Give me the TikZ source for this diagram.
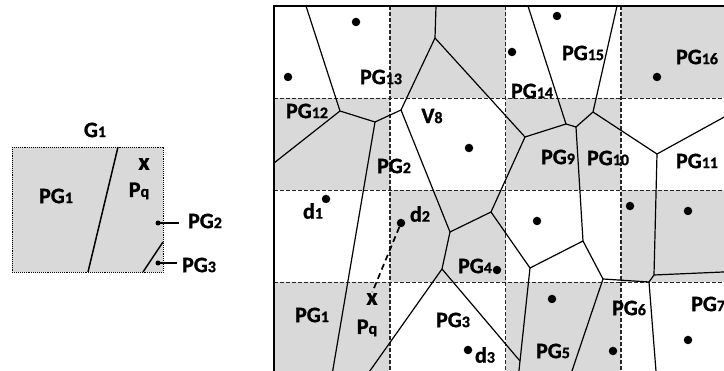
\documentclass[tikz,border=0pt]{standalone}
\usepackage{fontspec}
\setmainfont{Carlito}[BoldFeatures={FakeBold=1.2}]
\newcommand\lblfont{\fontsize{22}{24}\selectfont\bfseries}
\newcommand\ssub[1]{{\fontsize{16}{17}\selectfont #1}}
\begin{document}
\begin{tikzpicture}[x=1pt,y=-1pt,
  lbl/.style={font=\lblfont, inner sep=0pt},
  vedge/.style={line width=1.2pt, line join=round},
  gridline/.style={dash pattern=on 4pt off 2pt, line width=1.2pt, black!85},
  site/.style={circle, fill=black, inner sep=0pt, minimum size=8.5pt},
  cellfill/.style={fill=gray!30}]
\useasboundingbox (0,0) rectangle (724,371);
\begin{scope}
\clip (0,0) rectangle (724,371);

% ---------- partitioned grid (right) ----------
% checkerboard of grid cells
\fill[cellfill] (390,6) rectangle (505.5,98.5);
\fill[cellfill] (621,6) rectangle (737,98.5);
\fill[cellfill] (274,98.5) rectangle (390,190.5);
\fill[cellfill] (505.5,98.5) rectangle (621,190.5);
\fill[cellfill] (390,190.5) rectangle (505.5,282.5);
\fill[cellfill] (621,190.5) rectangle (737,282.5);
\fill[cellfill] (274,282.5) rectangle (390,375);
\fill[cellfill] (505.5,282.5) rectangle (621,375);

% grid lines
\foreach \gx in {390,505.5,621} \draw[gridline] (\gx,6) -- (\gx,375);
\foreach \gy in {98.5,190.5,282.5} \draw[gridline] (274,\gy) -- (737,\gy);

% Voronoi vertices
\coordinate (A) at (340,111);
\coordinate (B) at (375,122);
\coordinate (C) at (401,110);
\coordinate (D) at (435,38);
\coordinate (E) at (525,137);
\coordinate (F) at (450,232);
\coordinate (G) at (491,212);
\coordinate (H) at (530,268);
\coordinate (I) at (442,269);
\coordinate (J) at (520,361);
\coordinate (K) at (583,241);
\coordinate (L) at (576,127);
\coordinate (M) at (603,279);
\coordinate (N) at (649,282);
\coordinate (O) at (654,275);
\coordinate (P) at (657,154);
\coordinate (Q) at (593,112);
\coordinate (R) at (566,124);
% open ends on the frame
\coordinate (a1) at (306,6);
\coordinate (a2) at (274,163);
\coordinate (b1) at (332,375);
\coordinate (d1) at (436,6);
\coordinate (i1) at (367,375);
\coordinate (j1) at (518.5,375);
\coordinate (m1) at (570.6,375);
\coordinate (n1) at (656.3,375);
\coordinate (o1) at (737,271.4);
\coordinate (p1) at (737,110);
\coordinate (q1) at (617,6);
\coordinate (r1) at (528,6);

% Voronoi edges
\draw[vedge] (a1) -- (A) -- (B) -- (C) -- (D) -- (d1);
\draw[vedge] (A) -- (a2);
\draw[vedge] (B) -- (b1);
\draw[vedge] (C) -- (F) -- (G) -- (E) -- (D);
\draw[vedge] (E) -- (R) -- (r1);
\draw[vedge] (R) -- (L) -- (Q) -- (q1);
\draw[vedge] (Q) -- (P) -- (p1);
\draw[vedge] (P) -- (O) -- (o1);
\draw[vedge] (O) -- (N) -- (n1);
\draw[vedge] (N) -- (M) -- (m1);
\draw[vedge] (M) -- (K) -- (L);
\draw[vedge] (K) -- (H) -- (G);
\draw[vedge] (H) -- (J) -- (j1);
\draw[vedge] (F) -- (I) -- (i1);
\draw[vedge] (I) -- (J);

% frame
\draw[line width=2pt] (274,375) -- (274,6) -- (737,6);

% sites
\node[site] (s1) at (356,22) {};
\node[site] (s2) at (288,77) {};
\node[site] (s3) at (469,148) {};
\node[site] (s4) at (557,16) {};
\node[site] (s5) at (512,52) {};
\node[site] (s6) at (657,77) {};
\node[site] (sd1) at (326,199) {};
\node[site] (sd2) at (401,223) {};
\node[site] (s9) at (497,270) {};
\node[site] (sd3) at (468,350) {};
\node[site] (s11) at (537,221) {};
\node[site] (s12) at (630,206) {};
\node[site] (s13) at (688,211) {};
\node[site] (s14) at (552,299) {};
\node[site] (s15) at (613,351) {};
\node[site] (s16) at (688,340) {};

% labels
\node[lbl] (tPG13) at (381,77) {PG\ssub{13}};
\node[lbl] (tPG12) at (307,111) {PG\ssub{12}};
\node[lbl] (tV8) at (432,116) {V\ssub{8}};
\node[lbl] (tPG2) at (394,166) {PG\ssub{2}};
\node[lbl] (tPG15) at (583,53) {PG\ssub{15}};
\node[lbl] (tPG16) at (697,57) {PG\ssub{16}};
\node[lbl] (tPG14) at (532,91) {PG\ssub{14}};
\node[lbl] (tPG9) at (558,157) {PG\ssub{9}};
\node[lbl] (tPG10) at (608,158) {PG\ssub{10}};
\node[lbl] (tPG11) at (697,161) {PG\ssub{11}};
\node[lbl] (td1) at (313,211) {d\ssub{1}};
\node[lbl] (td2) at (420,214) {d\ssub{2}};
\node[lbl] (tPG4) at (475,266) {PG\ssub{4}};
\node[lbl] (tPG1) at (312,315) {PG\ssub{1}};
\node[lbl, font=\fontsize{24}{24}\selectfont\bfseries] (tx) at (372,299) {x};
\node[lbl] (tPq) at (367,328) {P\ssub{q}};
\node[lbl] (tPG3) at (453,320) {PG\ssub{3}};
\node[lbl] (td3) at (485,355) {d\ssub{3}};
\node[lbl] (tPG5) at (553,351) {PG\ssub{5}};
\node[lbl] (tPG6) at (629,308) {PG\ssub{6}};
\node[lbl, anchor=west] (tPG7) at (691,304) {PG\ssub{7}};

% query point to nearest site
\draw[line width=1.7pt, dash pattern=on 6pt off 4pt, shorten >=1pt] (sd2) -- (tx.north);

% ---------- single cell G1 (left) ----------
\coordinate (g1a) at (118,147);
\coordinate (g1b) at (88,272);
\coordinate (g2a) at (163,242);
\coordinate (g2b) at (143,272);
\fill[cellfill] (12,147) rectangle (163,272);
\draw[densely dotted, line width=0.9pt] (12,147) rectangle (163,272);
\draw[line width=1.5pt] (g1a) -- (g1b);
\draw[line width=1.5pt] (g2a) -- (g2b);
\node[lbl] (lG1) at (95,130) {G\ssub{1}};
\node[lbl] (lPG1) at (56,196) {PG\ssub{1}};
\node[lbl, font=\fontsize{24}{24}\selectfont\bfseries] (lx) at (144,164) {x};
\node[lbl] (lPq) at (139,191) {P\ssub{q}};
\node[site, minimum size=5pt] (lp2) at (158,223) {};
\node[site, minimum size=5pt] (lp3) at (158,263) {};
\node[lbl] (lPG2) at (205,221) {PG\ssub{2}};
\node[lbl] (lPG3) at (199,265) {PG\ssub{3}};
\draw[line width=1.3pt, shorten >=9pt] (lp2.center) -- (lp2 -| lPG2.west);
\draw[line width=1.3pt, shorten >=5pt] (lp3.center) -- (lp3 -| lPG3.west);
\end{scope}
\end{tikzpicture}
\end{document}
